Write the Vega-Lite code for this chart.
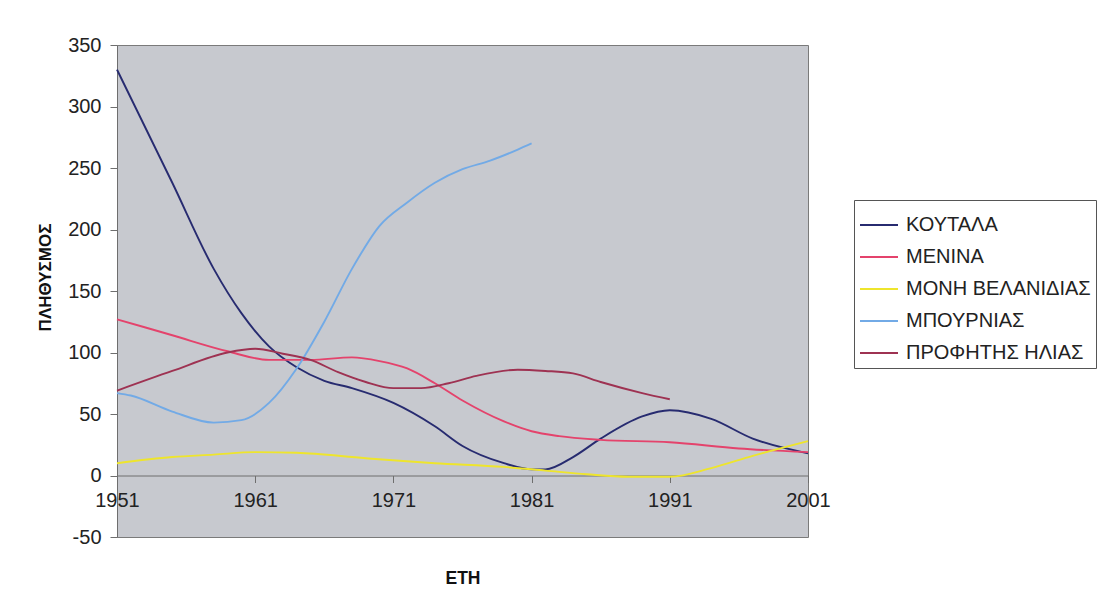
{
  "$schema": "https://vega.github.io/schema/vega-lite/v6.json",
  "width": 691,
  "height": 492,
  "autosize": {"type": "none"},
  "padding": {"left": 117, "top": 45, "right": 291, "bottom": 65},
  "background": "white",
  "config": {
    "view": {"fill": "#c7c9cf", "stroke": "#7a7a7a", "strokeWidth": 1},
    "font": "Liberation Sans"
  },
  "data": {
    "values": [
      {"s": "ΚΟΥΤΑΛΑ", "year": 1951, "v": 330},
      {"s": "ΚΟΥΤΑΛΑ", "year": 1955, "v": 238},
      {"s": "ΚΟΥΤΑΛΑ", "year": 1958, "v": 168},
      {"s": "ΚΟΥΤΑΛΑ", "year": 1960, "v": 132},
      {"s": "ΚΟΥΤΑΛΑ", "year": 1962, "v": 105},
      {"s": "ΚΟΥΤΑΛΑ", "year": 1964, "v": 88},
      {"s": "ΚΟΥΤΑΛΑ", "year": 1966, "v": 77},
      {"s": "ΚΟΥΤΑΛΑ", "year": 1968, "v": 71},
      {"s": "ΚΟΥΤΑΛΑ", "year": 1971, "v": 59},
      {"s": "ΚΟΥΤΑΛΑ", "year": 1974, "v": 40},
      {"s": "ΚΟΥΤΑΛΑ", "year": 1976, "v": 24},
      {"s": "ΚΟΥΤΑΛΑ", "year": 1979, "v": 10},
      {"s": "ΚΟΥΤΑΛΑ", "year": 1981, "v": 5},
      {"s": "ΚΟΥΤΑΛΑ", "year": 1982, "v": 5},
      {"s": "ΚΟΥΤΑΛΑ", "year": 1984, "v": 15},
      {"s": "ΚΟΥΤΑΛΑ", "year": 1986, "v": 30},
      {"s": "ΚΟΥΤΑΛΑ", "year": 1989, "v": 48},
      {"s": "ΚΟΥΤΑΛΑ", "year": 1991, "v": 53},
      {"s": "ΚΟΥΤΑΛΑ", "year": 1994, "v": 46},
      {"s": "ΚΟΥΤΑΛΑ", "year": 1997, "v": 30},
      {"s": "ΚΟΥΤΑΛΑ", "year": 2001, "v": 18},

      {"s": "ΜΕΝΙΝΑ", "year": 1951, "v": 127},
      {"s": "ΜΕΝΙΝΑ", "year": 1955, "v": 114},
      {"s": "ΜΕΝΙΝΑ", "year": 1959, "v": 101},
      {"s": "ΜΕΝΙΝΑ", "year": 1962, "v": 94},
      {"s": "ΜΕΝΙΝΑ", "year": 1965, "v": 94},
      {"s": "ΜΕΝΙΝΑ", "year": 1968, "v": 96},
      {"s": "ΜΕΝΙΝΑ", "year": 1970, "v": 93},
      {"s": "ΜΕΝΙΝΑ", "year": 1972, "v": 87},
      {"s": "ΜΕΝΙΝΑ", "year": 1974, "v": 75},
      {"s": "ΜΕΝΙΝΑ", "year": 1976, "v": 61},
      {"s": "ΜΕΝΙΝΑ", "year": 1979, "v": 44},
      {"s": "ΜΕΝΙΝΑ", "year": 1981, "v": 36},
      {"s": "ΜΕΝΙΝΑ", "year": 1983, "v": 32},
      {"s": "ΜΕΝΙΝΑ", "year": 1986, "v": 29},
      {"s": "ΜΕΝΙΝΑ", "year": 1991, "v": 27},
      {"s": "ΜΕΝΙΝΑ", "year": 1996, "v": 22},
      {"s": "ΜΕΝΙΝΑ", "year": 2001, "v": 19},

      {"s": "ΜΟΝΗ ΒΕΛΑΝΙΔΙΑΣ", "year": 1951, "v": 10},
      {"s": "ΜΟΝΗ ΒΕΛΑΝΙΔΙΑΣ", "year": 1955, "v": 15},
      {"s": "ΜΟΝΗ ΒΕΛΑΝΙΔΙΑΣ", "year": 1958, "v": 17},
      {"s": "ΜΟΝΗ ΒΕΛΑΝΙΔΙΑΣ", "year": 1961, "v": 19},
      {"s": "ΜΟΝΗ ΒΕΛΑΝΙΔΙΑΣ", "year": 1964, "v": 18.5},
      {"s": "ΜΟΝΗ ΒΕΛΑΝΙΔΙΑΣ", "year": 1969, "v": 14},
      {"s": "ΜΟΝΗ ΒΕΛΑΝΙΔΙΑΣ", "year": 1974, "v": 10},
      {"s": "ΜΟΝΗ ΒΕΛΑΝΙΔΙΑΣ", "year": 1979, "v": 7},
      {"s": "ΜΟΝΗ ΒΕΛΑΝΙΔΙΑΣ", "year": 1982, "v": 4},
      {"s": "ΜΟΝΗ ΒΕΛΑΝΙΔΙΑΣ", "year": 1985, "v": 1},
      {"s": "ΜΟΝΗ ΒΕΛΑΝΙΔΙΑΣ", "year": 1988, "v": -1},
      {"s": "ΜΟΝΗ ΒΕΛΑΝΙΔΙΑΣ", "year": 1991, "v": -1},
      {"s": "ΜΟΝΗ ΒΕΛΑΝΙΔΙΑΣ", "year": 1994, "v": 6},
      {"s": "ΜΟΝΗ ΒΕΛΑΝΙΔΙΑΣ", "year": 1997, "v": 16},
      {"s": "ΜΟΝΗ ΒΕΛΑΝΙΔΙΑΣ", "year": 2001, "v": 28},

      {"s": "ΜΠΟΥΡΝΙΑΣ", "year": 1951, "v": 67},
      {"s": "ΜΠΟΥΡΝΙΑΣ", "year": 1952, "v": 65},
      {"s": "ΜΠΟΥΡΝΙΑΣ", "year": 1955, "v": 52},
      {"s": "ΜΠΟΥΡΝΙΑΣ", "year": 1958, "v": 43},
      {"s": "ΜΠΟΥΡΝΙΑΣ", "year": 1960, "v": 45},
      {"s": "ΜΠΟΥΡΝΙΑΣ", "year": 1962, "v": 59},
      {"s": "ΜΠΟΥΡΝΙΑΣ", "year": 1964, "v": 87},
      {"s": "ΜΠΟΥΡΝΙΑΣ", "year": 1966, "v": 125},
      {"s": "ΜΠΟΥΡΝΙΑΣ", "year": 1968, "v": 168},
      {"s": "ΜΠΟΥΡΝΙΑΣ", "year": 1970, "v": 203},
      {"s": "ΜΠΟΥΡΝΙΑΣ", "year": 1972, "v": 222},
      {"s": "ΜΠΟΥΡΝΙΑΣ", "year": 1974, "v": 238},
      {"s": "ΜΠΟΥΡΝΙΑΣ", "year": 1976, "v": 249},
      {"s": "ΜΠΟΥΡΝΙΑΣ", "year": 1978, "v": 256},
      {"s": "ΜΠΟΥΡΝΙΑΣ", "year": 1980, "v": 265},
      {"s": "ΜΠΟΥΡΝΙΑΣ", "year": 1981, "v": 270},

      {"s": "ΠΡΟΦΗΤΗΣ ΗΛΙΑΣ", "year": 1951, "v": 69},
      {"s": "ΠΡΟΦΗΤΗΣ ΗΛΙΑΣ", "year": 1955, "v": 85},
      {"s": "ΠΡΟΦΗΤΗΣ ΗΛΙΑΣ", "year": 1959, "v": 100},
      {"s": "ΠΡΟΦΗΤΗΣ ΗΛΙΑΣ", "year": 1961, "v": 103},
      {"s": "ΠΡΟΦΗΤΗΣ ΗΛΙΑΣ", "year": 1963, "v": 99},
      {"s": "ΠΡΟΦΗΤΗΣ ΗΛΙΑΣ", "year": 1965, "v": 94},
      {"s": "ΠΡΟΦΗΤΗΣ ΗΛΙΑΣ", "year": 1967, "v": 84},
      {"s": "ΠΡΟΦΗΤΗΣ ΗΛΙΑΣ", "year": 1969, "v": 76},
      {"s": "ΠΡΟΦΗΤΗΣ ΗΛΙΑΣ", "year": 1971, "v": 71},
      {"s": "ΠΡΟΦΗΤΗΣ ΗΛΙΑΣ", "year": 1973, "v": 71},
      {"s": "ΠΡΟΦΗΤΗΣ ΗΛΙΑΣ", "year": 1975, "v": 75},
      {"s": "ΠΡΟΦΗΤΗΣ ΗΛΙΑΣ", "year": 1977, "v": 81},
      {"s": "ΠΡΟΦΗΤΗΣ ΗΛΙΑΣ", "year": 1980, "v": 86},
      {"s": "ΠΡΟΦΗΤΗΣ ΗΛΙΑΣ", "year": 1982, "v": 85},
      {"s": "ΠΡΟΦΗΤΗΣ ΗΛΙΑΣ", "year": 1984, "v": 83},
      {"s": "ΠΡΟΦΗΤΗΣ ΗΛΙΑΣ", "year": 1986, "v": 76},
      {"s": "ΠΡΟΦΗΤΗΣ ΗΛΙΑΣ", "year": 1989, "v": 67},
      {"s": "ΠΡΟΦΗΤΗΣ ΗΛΙΑΣ", "year": 1991, "v": 62}
    ]
  },
  "mark": {"type": "line", "interpolate": "monotone", "strokeWidth": 1.9},
  "encoding": {
    "x": {
      "field": "year",
      "type": "quantitative",
      "scale": {"domain": [1951, 2001], "nice": false, "zero": false},
      "axis": {
        "title": "ΕΤΗ",
        "values": [1951, 1961, 1971, 1981, 1991, 2001],
        "format": "d",
        "offset": -61.5,
        "grid": false,
        "domainColor": "#6e6e6e",
        "tickColor": "#6e6e6e",
        "tickSize": 7,
        "labelFontSize": 20,
        "labelColor": "#222222",
        "labelPadding": 8,
        "labelFlush": false,
        "titleFontSize": 17.5,
        "titleFontWeight": "bold",
        "titleColor": "#111111",
        "titlePadding": 59
      }
    },
    "y": {
      "field": "v",
      "type": "quantitative",
      "scale": {"domain": [-50, 350], "nice": false},
      "axis": {
        "title": "ΠΛΗΘΥΣΜΟΣ",
        "values": [-50, 0, 50, 100, 150, 200, 250, 300, 350],
        "labelExpr": "'' + datum.value",
        "grid": false,
        "domainColor": "#6e6e6e",
        "tickColor": "#6e6e6e",
        "tickSize": 7,
        "labelFontSize": 20,
        "labelColor": "#222222",
        "labelPadding": 9,
        "labelFlush": false,
        "titleFontSize": 17,
        "titleFontWeight": "bold",
        "titleColor": "#111111",
        "titlePadding": 13,
        "titleAlign": "center",
        "titleY": 232
      }
    },
    "color": {
      "field": "s",
      "type": "nominal",
      "scale": {
        "domain": ["ΚΟΥΤΑΛΑ", "ΜΕΝΙΝΑ", "ΜΟΝΗ ΒΕΛΑΝΙΔΙΑΣ", "ΜΠΟΥΡΝΙΑΣ", "ΠΡΟΦΗΤΗΣ ΗΛΙΑΣ"],
        "range": ["#272b70", "#e4436c", "#eee52c", "#72aae6", "#9e3252"]
      },
      "legend": {
        "title": null,
        "orient": "none",
        "legendX": 737,
        "legendY": 155,
        "symbolType": "stroke",
        "symbolSize": 1444,
        "symbolStrokeWidth": 1.9,
        "rowPadding": 2,
        "labelFontSize": 20,
        "labelColor": "#222222",
        "labelOffset": 7,
        "labelLimit": 400,
        "strokeColor": "#555555",
        "fillColor": "white",
        "padding": 5
      }
    }
  }
}
